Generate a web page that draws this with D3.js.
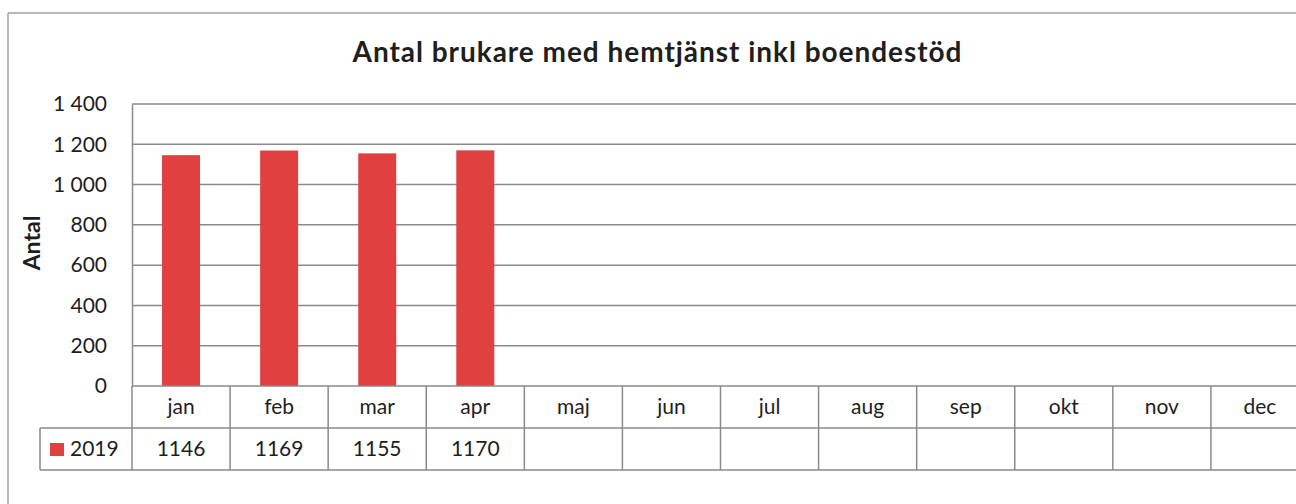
<!DOCTYPE html>
<html><head><meta charset="utf-8">
<script src="https://cdn.jsdelivr.net/npm/d3@7"></script>
<style>body{margin:0;background:#fff}svg{display:block}text{font-family:Lato,"Open Sans",sans-serif;fill:#1e1e1e}</style>
</head><body><svg id="c" width="1296" height="504"></svg>
<script>
const title = "Antal brukare med hemtjänst inkl boendestöd";
const yAxisLabel = "Antal";
const months = ["jan","feb","mar","apr","maj","jun","jul","aug","sep","okt","nov","dec"];
const seriesName = "2019";
const values2019 = [1146, 1169, 1155, 1170, null, null, null, null, null, null, null, null];
const yTicks = [0, 200, 400, 600, 800, 1000, 1200, 1400];

const svg = d3.select("#c");
const pL = 132, pR = 1309, pT = 104, pB = 386;
const x = d3.scaleBand().domain(months).range([pL, pR]);
const y = d3.scaleLinear().domain([0, 1400]).range([pB, pT]);
const grid = "#8a8a8a";
const fmt = v => d3.format(",")(v).replace(/,/g, " ");

// outer chart border
svg.append("line").attr("x1", 8).attr("x2", 1296).attr("y1", 13).attr("y2", 13).attr("stroke", "#a0a0a0").attr("stroke-width", 1.5);
svg.append("line").attr("x1", 8).attr("x2", 8).attr("y1", 13).attr("y2", 504).attr("stroke", "#a0a0a0").attr("stroke-width", 1.5);

// title
svg.append("text").attr("x", 657).attr("y", 62).attr("text-anchor", "middle")
  .attr("font-size", 28).attr("font-weight", "bold")
  .attr("textLength", 609).attr("lengthAdjust", "spacing").text(title);

// gridlines
svg.append("g").selectAll("line").data(yTicks.slice(1)).join("line")
  .attr("x1", pL).attr("x2", pR).attr("y1", d => y(d)).attr("y2", d => y(d))
  .attr("stroke", grid).attr("stroke-width", 1.5);

// y axis labels
const yAxis = d3.axisLeft(y).tickValues(yTicks).tickFormat(fmt).tickSize(0).tickPadding(25);
const ya = svg.append("g").attr("transform", `translate(${pL},0)`).call(yAxis);
ya.select(".domain").attr("stroke", grid).attr("stroke-width", 1.5);
ya.selectAll("text").attr("font-size", 21).attr("font-family", "Lato, sans-serif").attr("fill", "#1e1e1e");

svg.append("text").attr("transform", `translate(40,${(pT+pB)/2 - 2}) rotate(-90)`)
  .attr("text-anchor", "middle").attr("font-size", 23).attr("font-weight", "bold").text(yAxisLabel);

// bars
const bw = 38;
svg.append("g").selectAll("rect").data(months.map((m, i) => ({m, v: values2019[i]})).filter(d => d.v != null)).join("rect")
  .attr("x", d => x(d.m) + x.bandwidth()/2 - bw/2).attr("width", bw)
  .attr("y", d => y(d.v)).attr("height", d => y(0) - y(d.v))
  .attr("fill", "#e0403f");

// data table
const rowH = 42, r1 = pB, r2 = pB + rowH, r3 = pB + 2*rowH, legL = 40;
const t = svg.append("g").attr("stroke", grid).attr("stroke-width", 1.5);
t.append("line").attr("x1", pL).attr("x2", pR).attr("y1", r1).attr("y2", r1);
t.append("line").attr("x1", legL).attr("x2", pR).attr("y1", r2).attr("y2", r2);
t.append("line").attr("x1", legL).attr("x2", pR).attr("y1", r3).attr("y2", r3);
t.append("line").attr("x1", legL).attr("x2", legL).attr("y1", r2).attr("y2", r3);
t.selectAll(".v").data(months).join("line")
  .attr("x1", d => x(d)).attr("x2", d => x(d)).attr("y1", r1).attr("y2", r3);

svg.append("g").selectAll("text").data(months).join("text")
  .attr("x", d => x(d) + x.bandwidth()/2).attr("y", r1 + 28).attr("text-anchor", "middle")
  .attr("font-size", 21).text(d => d);
svg.append("g").selectAll("text").data(months.map((m, i) => ({m, v: values2019[i]})).filter(d => d.v != null)).join("text")
  .attr("x", d => x(d.m) + x.bandwidth()/2).attr("y", r2 + 28).attr("text-anchor", "middle")
  .attr("font-size", 21).text(d => d.v);

// legend key
svg.append("rect").attr("x", 50).attr("y", r2 + 15).attr("width", 14).attr("height", 13).attr("fill", "#e0403f");
svg.append("text").attr("x", 70).attr("y", r2 + 28).attr("font-size", 21).text(seriesName);
</script></body></html>
